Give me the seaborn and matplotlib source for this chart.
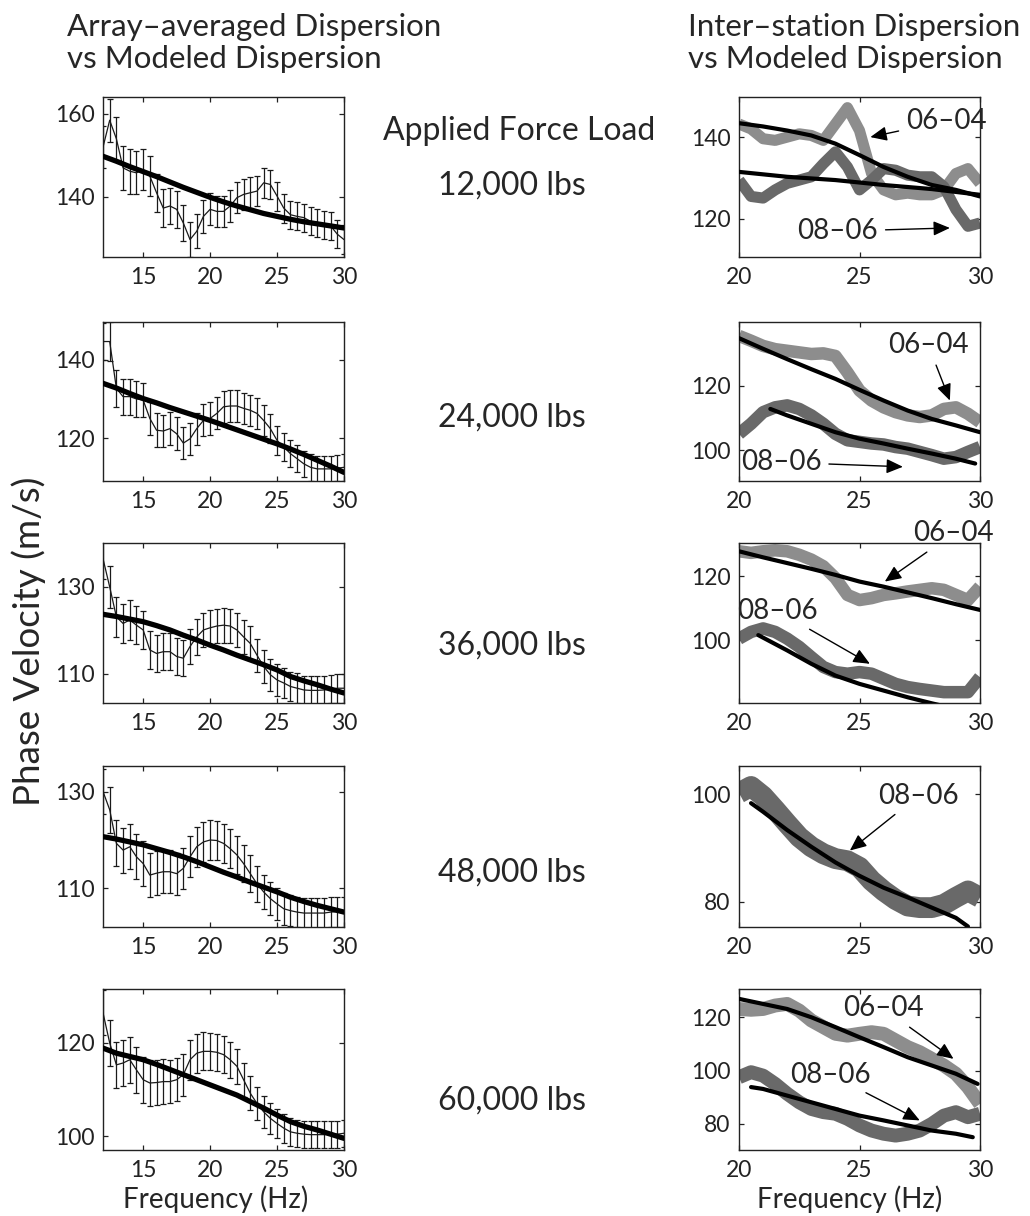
import numpy as np
import pandas as pd
import seaborn as sns
import matplotlib.pyplot as plt

# ---- data ----
loads = ["12,000 lbs", "24,000 lbs", "36,000 lbs", "48,000 lbs", "60,000 lbs"]

freq_arr = [12.0, 12.5, 13.0, 13.5, 14.0, 14.5, 15.0, 15.5, 16.0, 16.5, 17.0, 17.5,
            18.0, 18.5, 19.0, 19.5, 20.0, 20.5, 21.0, 21.5, 22.0, 22.5, 23.0, 23.5,
            24.0, 24.5, 25.0, 25.5, 26.0, 26.5, 27.0, 27.5, 28.0, 28.5, 29.0, 29.5, 30.0]

mean_12k = [152.0, 158.5, 154.0, 147.0, 146.2, 145.8, 146.6, 145.0, 141.0, 137.3, 137.8, 137.0,
            133.7, 129.7, 131.7, 135.3, 137.0, 136.5, 136.5, 137.8, 139.8, 140.6, 141.0, 141.4,
            143.4, 143.0, 140.2, 137.3, 135.7, 135.3, 135.0, 134.1, 133.7, 133.3, 133.0, 131.0, 129.7]
mean_24k = [144.7, 144.7, 132.7, 130.6, 130.6, 130.0, 129.7, 125.0, 122.0, 121.8, 122.4, 121.1,
            118.7, 119.8, 122.4, 124.5, 125.0, 126.3, 128.0, 128.2, 128.2, 127.6, 127.1, 126.3,
            124.5, 122.4, 119.4, 117.7, 116.0, 114.7, 113.4, 112.5, 112.1, 112.1, 112.1, 112.3, 112.5]
mean_36k = [136.5, 130.0, 123.1, 121.6, 122.4, 121.2, 120.1, 115.5, 114.7, 115.1, 115.1, 114.0,
            113.6, 116.3, 118.5, 120.1, 120.6, 121.0, 121.2, 121.0, 120.1, 118.5, 117.0, 114.3,
            111.7, 109.8, 108.6, 107.9, 107.1, 106.7, 106.3, 106.2, 106.2, 106.3, 106.5, 106.7, 106.7]
mean_48k = [130.1, 126.3, 119.3, 117.9, 118.6, 116.5, 115.1, 112.7, 113.1, 113.4, 113.4, 113.0,
            114.1, 116.5, 118.6, 119.6, 120.0, 119.9, 119.3, 118.2, 116.9, 115.1, 113.0, 110.9,
            109.2, 107.8, 106.7, 105.7, 105.3, 105.0, 104.8, 104.8, 104.8, 104.8, 105.0, 105.1, 105.1]
mean_60k = [126.5, 120.0, 115.3, 115.7, 116.4, 114.2, 112.1, 111.4, 111.5, 111.7, 111.7, 112.1,
            113.2, 116.4, 117.8, 118.2, 118.2, 118.0, 117.5, 116.4, 115.0, 112.1, 109.2, 107.0,
            105.2, 103.8, 102.7, 101.7, 100.9, 100.6, 100.4, 100.3, 100.3, 100.3, 100.4, 100.4, 100.6]

err_12k = [5.0, 5.2, 5.2, 5.3, 5.4, 5.2, 5.0, 4.8, 4.6, 4.5, 4.4, 4.4, 4.3, 4.2, 4.1, 4.0, 3.9,
           3.8, 3.8, 3.8, 3.8, 3.7, 3.7, 3.6, 3.6, 3.6, 3.5, 3.5, 3.4, 3.4, 3.4, 3.4, 3.4, 3.4,
           3.4, 3.4, 3.4]
err_24k = [4.8, 5.1, 4.8, 4.6, 4.6, 4.5, 4.4, 4.3, 4.3, 4.2, 4.2, 4.2, 4.1, 4.1, 4.1, 4.1, 4.1,
           4.1, 4.1, 4.1, 4.1, 4.0, 4.0, 4.0, 3.9, 3.8, 3.7, 3.6, 3.5, 3.5, 3.4, 3.4, 3.4, 3.4,
           3.4, 3.4, 3.4]
err_36k = [4.6, 4.8, 4.6, 4.5, 4.5, 4.4, 4.4, 4.3, 4.3, 4.2, 4.2, 4.2, 4.1, 4.1, 4.1, 4.0, 4.0,
           4.0, 4.0, 4.0, 4.0, 3.9, 3.9, 3.8, 3.8, 3.7, 3.6, 3.5, 3.4, 3.4, 3.3, 3.3, 3.3, 3.3,
           3.3, 3.3, 3.3]
err_48k = [4.6, 4.8, 4.8, 4.7, 4.7, 4.7, 4.6, 4.6, 4.6, 4.5, 4.5, 4.4, 4.3, 4.3, 4.2, 4.2, 4.1,
           4.1, 4.1, 4.0, 4.0, 3.9, 3.8, 3.7, 3.6, 3.5, 3.4, 3.3, 3.2, 3.2, 3.1, 3.1, 3.1, 3.1,
           3.1, 3.1, 3.1]
err_60k = [4.8, 4.9, 4.9, 4.9, 4.9, 4.9, 4.9, 4.9, 4.9, 4.8, 4.7, 4.6, 4.5, 4.3, 4.2, 4.1, 4.0,
           4.0, 4.0, 3.9, 3.8, 3.7, 3.6, 3.5, 3.4, 3.3, 3.2, 3.1, 3.0, 2.9, 2.9, 2.9, 2.9, 2.9,
           2.9, 2.9, 2.9]

model_freq = [12, 13, 14, 15, 16, 17, 18, 19, 20, 21, 22, 23, 24, 25, 26, 27, 28, 29, 30]
model_12k = [149.8, 148.6, 147.3, 146.1, 144.9, 143.6, 142.3, 141.1, 139.9, 138.8, 137.8, 136.9,
             136.0, 135.3, 134.6, 134.0, 133.5, 133.0, 132.5]
model_24k = [134.0, 132.8, 131.4, 130.1, 129.0, 127.8, 126.7, 125.6, 124.5, 123.3, 122.1, 120.9,
             119.7, 118.5, 117.2, 115.8, 114.3, 112.8, 111.2]
model_36k = [123.7, 123.2, 122.6, 122.0, 121.1, 120.1, 118.9, 117.8, 116.6, 115.5, 114.3, 113.2,
             112.1, 110.9, 109.4, 108.4, 107.5, 106.5, 105.6]
model_48k = [120.7, 120.2, 119.6, 119.0, 118.2, 117.4, 116.5, 115.5, 114.4, 113.3, 112.3, 111.2,
             110.2, 109.2, 108.1, 107.2, 106.4, 105.7, 105.0]
model_60k = [118.9, 117.8, 117.1, 116.4, 115.4, 114.3, 113.2, 112.1, 111.0, 109.9, 108.8, 107.4,
             106.0, 104.5, 103.1, 102.1, 101.3, 100.4, 99.5]

# inter-station observed dispersion (station pairs 06-04 and 08-06)
freq_pair = [20.0, 20.5, 21.0, 21.5, 22.0, 22.5, 23.0, 23.5, 24.0, 24.5, 25.0,
             25.5, 26.0, 26.5, 27.0, 27.5, 28.0, 28.5, 29.0, 29.5, 30.0]
obs_0604_12k = [143.2, 142.0, 139.6, 139.2, 140.0, 140.8, 140.4, 139.2, 143.2, 147.2, 141.6,
                131.1, 127.1, 125.9, 126.3, 125.9, 125.9, 127.1, 131.1, 132.3, 128.7]
obs_0806_12k = [129.5, 125.5, 125.1, 127.1, 128.7, 129.5, 130.3, 133.5, 136.4, 132.7, 127.1,
                129.5, 132.3, 131.9, 130.7, 130.3, 130.3, 127.9, 122.3, 118.2, 119.0]
obs_0604_24k = [135.4, 133.9, 132.3, 131.3, 130.8, 130.3, 129.8, 130.0, 129.2, 124.1, 118.5,
                115.4, 113.3, 111.8, 110.8, 110.3, 110.8, 112.8, 113.3, 111.3, 108.7]
obs_0806_24k = [105.1, 108.2, 111.8, 113.3, 113.9, 112.8, 110.8, 108.2, 105.1, 103.1, 102.6,
                102.1, 101.8, 101.0, 100.5, 99.5, 98.5, 97.4, 97.9, 99.5, 101.0]
obs_0604_36k = [127.9, 127.4, 127.9, 128.2, 127.9, 126.8, 125.3, 123.2, 119.5, 114.2, 112.6,
                113.2, 114.2, 114.7, 115.3, 115.8, 116.3, 115.8, 114.2, 112.6, 116.8]
obs_0806_36k = [100.5, 102.6, 103.7, 102.6, 100.5, 97.9, 94.7, 91.6, 90.0, 89.5, 90.0,
                89.5, 87.9, 86.3, 85.3, 84.7, 84.2, 83.7, 83.7, 83.7, 88.4]
obs_0806_48k = [100.2, 101.4, 99.6, 97.1, 94.5, 92.0, 90.2, 88.9, 88.0, 87.6, 86.4,
                83.9, 82.0, 80.4, 79.2, 78.9, 78.9, 79.5, 80.8, 82.0, 80.8]
obs_0604_60k = [123.1, 122.8, 123.1, 124.4, 125.0, 122.5, 118.8, 116.3, 113.8, 113.1, 113.8,
                114.4, 113.8, 111.3, 108.8, 106.9, 104.4, 101.9, 98.8, 93.8, 87.5]
obs_0806_60k = [97.5, 99.4, 98.1, 95.0, 91.3, 88.1, 85.6, 84.4, 83.8, 81.9, 79.4,
                77.5, 76.3, 75.6, 76.3, 77.5, 80.0, 83.1, 84.4, 82.5, 83.8]

# modeled inter-station dispersion
mfreq_0604_12k = [20, 21, 22, 23, 24, 25, 26, 27, 28, 29, 30]
mod_0604_12k = [143.4, 142.6, 141.6, 140.4, 138.4, 135.6, 132.7, 130.3, 128.3, 127.1, 125.5]
mfreq_0806_12k = [20, 21, 22, 23, 24, 25, 26, 27, 28, 29, 30]
mod_0806_12k = [131.5, 130.9, 130.3, 129.9, 129.5, 128.9, 128.3, 127.8, 127.3, 126.6, 125.9]
mfreq_0604_24k = [20, 21, 22, 23, 24, 25, 26, 27, 28, 29, 30]
mod_0604_24k = [134.7, 131.4, 128.2, 125.1, 122.1, 118.7, 115.4, 112.3, 109.7, 107.7, 105.6]
mfreq_0806_24k = [21.3, 22, 23, 24, 25, 26, 27, 28, 29, 29.8]
mod_0806_24k = [112.8, 110.8, 108.2, 105.6, 103.6, 102.1, 100.5, 99.0, 97.4, 95.9]
mfreq_0604_36k = [20, 21, 22, 23, 24, 25, 26, 27, 28, 29, 30]
mod_0604_36k = [127.9, 126.0, 124.2, 122.4, 120.5, 118.4, 116.8, 115.0, 113.2, 111.3, 109.5]
mfreq_0806_36k = [20.8, 22, 23, 24, 25, 26, 27, 28, 28.4]
mod_0806_36k = [101.6, 96.8, 92.6, 88.9, 86.3, 84.2, 82.1, 80.2, 79.5]
mfreq_0806_48k = [20.5, 21, 22, 23, 24, 25, 26, 27, 28, 29, 29.5]
mod_0806_48k = [98.3, 96.7, 93.3, 90.2, 87.3, 84.8, 82.6, 80.8, 78.9, 77.0, 75.4]
mfreq_0604_60k = [20, 21, 22, 23, 24, 25, 26, 27, 28, 29, 29.9]
mod_0604_60k = [126.9, 125.0, 123.1, 120.0, 116.3, 112.5, 108.8, 105.0, 101.9, 98.8, 95.0]
mfreq_0806_60k = [20.5, 21, 22, 23, 24, 25, 26, 27, 28, 29, 29.7]
mod_0806_60k = [93.8, 93.1, 90.6, 88.1, 85.6, 83.1, 81.3, 79.4, 77.5, 76.3, 75.0]

# ---- style ----
sns.set_theme(style="ticks")
plt.rcParams["font.family"] = ["Lato", "DejaVu Sans"]
plt.rcParams.update({
    "xtick.direction": "in", "ytick.direction": "in",
    "xtick.top": True, "ytick.right": True,
    "xtick.major.size": 3.5, "ytick.major.size": 3.5,
    "xtick.major.width": 0.9, "ytick.major.width": 0.9,
    "axes.linewidth": 1.0, "axes.edgecolor": "#222222",
    "xtick.color": "#222222", "ytick.color": "#222222",
    "xtick.labelsize": 16.5, "ytick.labelsize": 16.5,
    "xtick.major.pad": 7, "ytick.major.pad": 6,
})

W, H = 1030, 1216
fig = plt.figure(figsize=(W / 100, H / 100), dpi=100)

rows_px = [(97, 257), (322, 481), (543, 703), (766, 927), (989, 1150)]

def add_ax(x0, x1, top, bottom):
    return fig.add_axes([x0 / W, 1 - bottom / H, (x1 - x0) / W, (bottom - top) / H])

LIGHT = "#8d8d8d"
DARK = "#696969"

# left column: array-averaged dispersion with error bars
left_means = [mean_12k, mean_24k, mean_36k, mean_48k, mean_60k]
left_errs = [err_12k, err_24k, err_36k, err_48k, err_60k]
left_models = [model_12k, model_24k, model_36k, model_48k, model_60k]
left_ylims = [(125.5, 164.1), (109.0, 149.7), (103.3, 140.1), (101.9, 135.4), (97.0, 131.6)]
left_yticks = [[140, 160], [120, 140], [110, 130], [110, 130], [100, 120]]

for i in range(5):
    ax = add_ax(103, 344, *rows_px[i])
    ax.errorbar(freq_arr, left_means[i], yerr=left_errs[i], fmt="none",
                ecolor="#1a1a1a", elinewidth=0.9, capsize=2.2, capthick=0.9, zorder=2)
    sns.lineplot(x=freq_arr, y=left_means[i], ax=ax, color="#1a1a1a", linewidth=0.9,
                 estimator=None, sort=False, zorder=3)
    sns.lineplot(x=model_freq, y=left_models[i], ax=ax, color="black", linewidth=3.8,
                 estimator=None, sort=False, zorder=4)
    ax.set_xlim(12, 30)
    ax.set_ylim(*left_ylims[i])
    ax.set_xticks([15, 20, 25, 30])
    ax.set_yticks(left_yticks[i])
    ax.set_xlabel("")
    ax.set_ylabel("")

# right column: inter-station dispersion
right_obs = [
    [(obs_0604_12k, LIGHT, 8), (obs_0806_12k, DARK, 8)],
    [(obs_0604_24k, LIGHT, 9), (obs_0806_24k, DARK, 9)],
    [(obs_0604_36k, LIGHT, 9), (obs_0806_36k, DARK, 9)],
    [(obs_0806_48k, DARK, 15)],
    [(obs_0604_60k, LIGHT, 10), (obs_0806_60k, DARK, 10)],
]
right_mods = [
    [(mfreq_0604_12k, mod_0604_12k), (mfreq_0806_12k, mod_0806_12k)],
    [(mfreq_0604_24k, mod_0604_24k), (mfreq_0806_24k, mod_0806_24k)],
    [(mfreq_0604_36k, mod_0604_36k), (mfreq_0806_36k, mod_0806_36k)],
    [(mfreq_0806_48k, mod_0806_48k)],
    [(mfreq_0604_60k, mod_0604_60k), (mfreq_0806_60k, mod_0806_60k)],
]
right_ylims = [(110.7, 149.8), (90.5, 139.7), (80.3, 130.5), (75.3, 105.2), (70.2, 130.6)]
right_yticks = [[120, 140], [100, 120], [100, 120], [80, 100], [80, 100, 120]]
# (label, text centre, arrow tip) in data coordinates
right_notes = [
    [("06–04", (28.6, 144.0), (25.45, 140.0)), ("08–06", (24.1, 117.0), (28.75, 117.8))],
    [("06–04", (27.85, 132.6), (28.75, 115.4)), ("08–06", (21.75, 96.3), (26.8, 94.9))],
    [("06–04", (28.9, 133.5), (26.05, 118.4)), ("08–06", (21.6, 109.2), (25.43, 92.6))],
    [("08–06", (27.45, 99.7), (24.6, 89.5))],
    [("06–04", (26.0, 123.3), (28.9, 104.4)), ("08–06", (23.8, 98.5), (27.5, 81.3))],
]

for i in range(5):
    ax = add_ax(739, 980, *rows_px[i])
    for vals, col, lw in right_obs[i]:
        sns.lineplot(x=freq_pair, y=vals, ax=ax, color=col, linewidth=lw,
                     estimator=None, sort=False, zorder=2, solid_capstyle="butt")
    for fx, fy in right_mods[i]:
        sns.lineplot(x=fx, y=fy, ax=ax, color="black", linewidth=3.0,
                     estimator=None, sort=False, zorder=3)
    for lab, txt, tip in right_notes[i]:
        ax.annotate(lab, xy=tip, xytext=txt, ha="center", va="center", fontsize=20,
                    annotation_clip=False, zorder=5,
                    arrowprops=dict(arrowstyle="-|>,head_length=0.5,head_width=0.22",
                                    color="black", lw=1.0, shrinkA=3, shrinkB=0))
    ax.set_xlim(20, 30)
    ax.set_ylim(*right_ylims[i])
    ax.set_xticks([20, 25, 30])
    ax.set_yticks(right_yticks[i])
    ax.set_xlabel("")
    ax.set_ylabel("")

# ---- figure text ----
fig.text(67 / W, 1 - 36 / H, "Array–averaged Dispersion", fontsize=22.5, va="baseline")
fig.text(67 / W, 1 - 68 / H, "vs Modeled Dispersion", fontsize=22.5, va="baseline")
fig.text(688 / W, 1 - 36 / H, "Inter–station Dispersion", fontsize=22.5, va="baseline")
fig.text(688 / W, 1 - 68 / H, "vs Modeled Dispersion", fontsize=22.5, va="baseline")
fig.text(519 / W, 1 - 140 / H, "Applied Force Load", fontsize=23, va="baseline", ha="center")

load_baselines = [195, 427, 655, 882, 1110]
for lab, yb in zip(loads, load_baselines):
    fig.text(512 / W, 1 - yb / H, lab, fontsize=23, va="baseline", ha="center")

fig.text(29 / W, 1 - 641 / H, "Phase Velocity (m/s)", fontsize=26.5, rotation=90,
         ha="center", va="center")
fig.text(216 / W, 1 - 1208 / H, "Frequency (Hz)", fontsize=20, ha="center", va="baseline")
fig.text(850 / W, 1 - 1208 / H, "Frequency (Hz)", fontsize=20, ha="center", va="baseline")

fig.savefig("out.png", dpi=100)
